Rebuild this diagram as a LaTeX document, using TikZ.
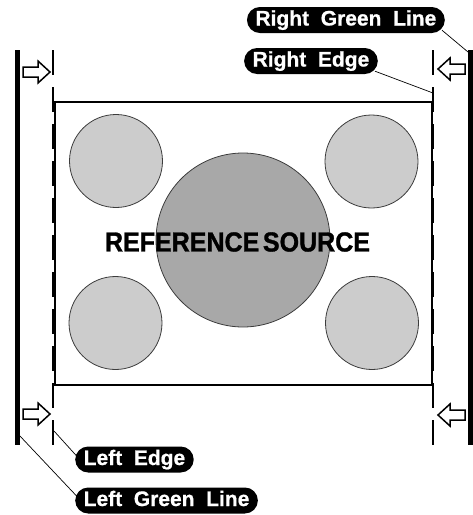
\documentclass[tikz,border=0pt]{standalone}
\usepackage{fontspec}
\setmainfont{Liberation Sans}
\newfontfamily\heavyfont[FakeBold=1.2]{Liberation Sans Bold}
\newfontfamily\pillfont[FakeBold=0.8]{Liberation Sans Bold}
\usetikzlibrary{calc}
\definecolor{smallfill}{RGB}{204,204,204}
\definecolor{bigfill}{RGB}{168,168,168}
\definecolor{rimgray}{RGB}{60,60,60}
\tikzset{
  pill/.style={fill=black, text=white, font=\pillfont\fontsize{21}{21}\selectfont,
    rounded corners=13pt, minimum height=26pt, inner ysep=0pt, inner xsep=8.5pt,
    text height=15pt, text depth=4pt},
  greenline/.style={line width=5pt},
  edgeline/.style={line width=1.5pt, dash pattern=on 25pt off 12pt},
  screen/.style={line width=2pt},
  disc/.style={draw=rimgray, line width=0.8pt},
  leader/.style={line width=0.7pt},
  arrowline/.style={draw=black, fill=white, line width=1.5pt, line join=miter},
  rarrow/.pic={\draw[arrowline] (-27,-5)--(-12,-5)--(-12,-11)--(0,0)--(-12,11)--(-12,5)--(-27,5)--cycle;},
  larrow/.pic={\draw[arrowline] (27,-5)--(12,-5)--(12,-11)--(0,0)--(12,11)--(12,5)--(27,5)--cycle;}
}
\begin{document}
\begin{tikzpicture}[x=1pt,y=-1pt]
\useasboundingbox (0,0) rectangle (473,515);
% screen and discs
\draw[disc, fill=smallfill] (116,161) circle[radius=46.5];
\draw[disc, fill=smallfill] (371.5,161.5) circle[radius=46.5];
\draw[disc, fill=smallfill] (115.5,323) circle[radius=46.5];
\draw[disc, fill=smallfill] (372,323) circle[radius=46.5];
\draw[disc, fill=bigfill] (243,240) circle[radius=87];
\draw[screen] (55,102) rectangle (432,385);
\node[font=\heavyfont\fontsize{27.5}{27.5}\selectfont, inner sep=0pt] (title) at (237.5,242)
  {\scalebox{0.91}[1]{REFERENCE\hspace{4pt}SOURCE}};
% green lines
\coordinate (lgTop) at (17,50);
\coordinate (lgBot) at (17,445);
\coordinate (rgTop) at (470.5,50);
\coordinate (rgBot) at (470.5,445);
\draw[greenline] (lgTop) -- (lgBot);
\draw[greenline] (rgTop) -- (rgBot);
% edges
\coordinate (leTop) at (53,50);
\coordinate (leBot) at (53,445);
\coordinate (reTop) at (433,50);
\coordinate (reBot) at (433,445);
\draw[edgeline] (leTop) -- (leBot);
\draw[edgeline] (reTop) -- (reBot);
% arrows
\pic at (50,72) {rarrow};
\pic at (50,414) {rarrow};
\pic at (438,69) {larrow};
\pic at (438,415) {larrow};
% labels
\node[pill, anchor=east] (rgl) at (445,20) {Right~~Green~~Line};
\node[pill, anchor=east] (re) at (378,61) {Right~~Edge};
\node[pill, anchor=west] (le) at (75,459.5) {Left~~Edge};
\node[pill, anchor=west] (lgl) at (75,500.5) {Left~~Green~~Line};
% leaders
\coordinate (rgAnchor) at (468,52);
\coordinate (reAnchor) at (433,93);
\coordinate (leAnchor) at (54,431);
\coordinate (lgAnchor) at (19,435);
\draw[leader] ($(rgl.south east)+(-3,-3)$) -- (rgAnchor);
\draw[leader] ($(re.south east)+(-3,-3)$) -- (reAnchor);
\draw[leader] (leAnchor) -- ($(le.west)+(3,-2)$);
\draw[leader] (lgAnchor) -- ($(lgl.west)+(3,-3)$);
\end{tikzpicture}
\end{document}
